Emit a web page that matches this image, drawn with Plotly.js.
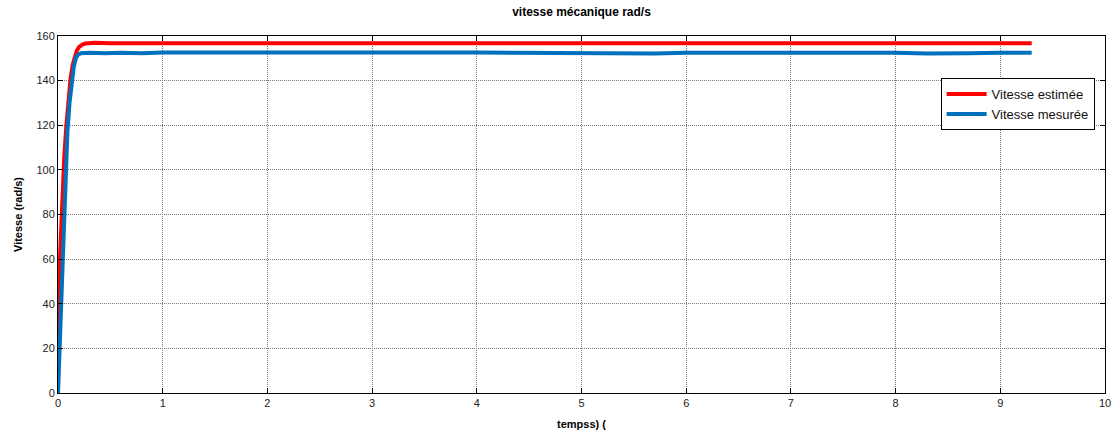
<!DOCTYPE html>
<html>
<head>
<meta charset="utf-8">
<script src="https://cdn.plot.ly/plotly-3.0.1.min.js"></script>
<style>
  html, body { margin: 0; padding: 0; background: #fff; }
  #chart { width: 1117px; height: 434px; }
</style>
</head>
<body>
<div id="chart"></div>
<script>
// Estimated speed (rad/s) versus time (s)
const tEstimee = [0, 0.005, 0.01, 0.02, 0.04, 0.06, 0.08, 0.10, 0.12, 0.14, 0.16, 0.18, 0.20, 0.23, 0.26, 0.30, 0.35, 0.5, 1.0, 2.0, 3.0, 4.0, 5.0, 6.0, 7.0, 8.0, 9.0, 9.3];
const vEstimee = [0, 30, 45, 62, 86, 106, 120, 132, 141, 147, 151, 153.5, 155, 156.1, 156.6, 156.9, 157, 156.8, 156.7, 156.7, 156.7, 156.7, 156.7, 156.7, 156.7, 156.7, 156.7, 156.7];

// Measured speed (rad/s) versus time (s)
const tMesuree = [0, 0.01, 0.02, 0.03, 0.05, 0.07, 0.09, 0.11, 0.13, 0.15, 0.17, 0.19, 0.22, 0.26, 0.30, 0.45, 0.6, 0.8, 1.0, 1.5, 2.0, 3.0, 4.0, 4.7, 5.0, 5.3, 5.5, 5.7, 6.0, 7.0, 8.0, 8.3, 8.5, 8.7, 9.0, 9.3];
const vMesuree = [0, 14, 26, 40, 70, 100, 117, 130, 140, 146, 150, 151.6, 152.3, 152.6, 152.5, 152.3, 152.5, 152.3, 152.6, 152.6, 152.5, 152.6, 152.6, 152.5, 152.4, 152.1, 152.0, 152.2, 152.5, 152.6, 152.5, 152.2, 152.1, 152.3, 152.5, 152.5];

const xTicks = [0, 1, 2, 3, 4, 5, 6, 7, 8, 9, 10];
const yTicks = [0, 20, 40, 60, 80, 100, 120, 140, 160];

const font = "Liberation Sans, Arial, sans-serif";

const traces = [
  {
    x: tEstimee, y: vEstimee, type: "scatter", mode: "lines",
    name: "Vitesse estimée",
    line: { color: "#ff0000", width: 4 }
  },
  {
    x: tMesuree, y: vMesuree, type: "scatter", mode: "lines",
    name: "Vitesse mesurée",
    line: { color: "#0072bd", width: 4 }
  }
];

const axisCommon = {
  showline: true, linecolor: "#000", linewidth: 1, mirror: "ticks",
  ticks: "inside", ticklen: 5, tickcolor: "#000", tickwidth: 1,
  showgrid: true, gridcolor: "#7a7a7a", gridwidth: 1, griddash: "1px,1px",
  zeroline: false,
  tickfont: { family: font, size: 11, color: "#222" }
};

const layout = {
  width: 1117, height: 434,
  margin: { l: 58, r: 12, t: 36, b: 41 },
  paper_bgcolor: "#fff", plot_bgcolor: "#fff",
  title: {
    text: "<b>vitesse mécanique rad/s</b>",
    font: { family: font, size: 12, color: "#000" },
    x: 0.5, xref: "paper", y: 0.972, yanchor: "middle"
  },
  xaxis: Object.assign({}, axisCommon, {
    range: [0, 10], tickvals: xTicks, ticktext: xTicks.map(String),
    title: { text: "<b>tempss) (</b>", font: { family: font, size: 11, color: "#000" }, standoff: 12 }
  }),
  yaxis: Object.assign({}, axisCommon, {
    range: [0, 160], tickvals: yTicks, ticktext: yTicks.map(String),
    title: { text: "<b>Vitesse (rad/s)</b>", font: { family: font, size: 11, color: "#000" }, standoff: 11 }
  }),
  legend: {
    x: 0.843, y: 0.882, xanchor: "left", yanchor: "top",
    bordercolor: "#000", borderwidth: 1, bgcolor: "#fff",
    font: { family: font, size: 13, color: "#111" },
    tracegroupgap: 0, itemwidth: 40
  },
  showlegend: true
};

Plotly.newPlot("chart", traces, layout, { displayModeBar: false, staticPlot: true });
</script>
</body>
</html>
